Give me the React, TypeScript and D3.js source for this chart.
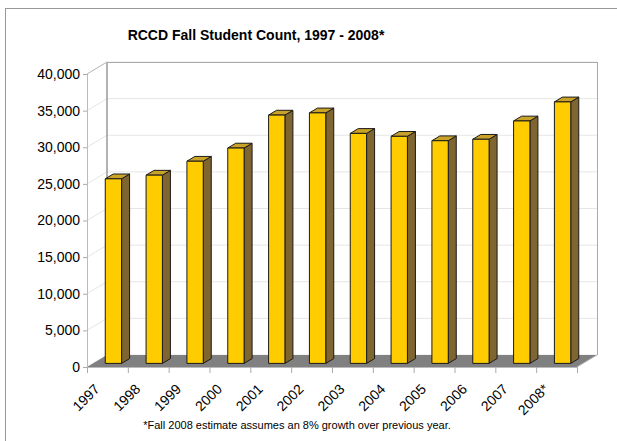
import React from 'react'
import * as d3 from 'd3'

const years = ['1997', '1998', '1999', '2000', '2001', '2002', '2003', '2004', '2005', '2006', '2007', '2008*']
const counts = [25200, 25700, 27600, 29400, 33900, 34200, 31400, 31000, 30400, 30600, 33100, 35700]
const yTicks = [0, 5000, 10000, 15000, 20000, 25000, 30000, 35000, 40000]

const W = 617
const H = 441
// plot floor front edge and depth offset
const x0 = 87
const x1 = 577
const yZero = 367
const yTop = 74
const DX = 20
const DY = -12

const App = () => {
  const y = d3.scaleLinear().domain([0, 40000]).range([yZero, yTop])
  const x = d3.scaleBand().domain(years).range([x0, x1]).paddingInner(0.6).paddingOuter(0.3)
  const step = x.step()
  const bw = x.bandwidth()
  const fmt = d3.format(',')

  // bar sits in the middle of the depth
  const f0 = 0.3
  const fd = 0.4
  const pts = (p) => p.map((q) => q.join(',')).join(' ')

  return (
    <svg width={W} height={H} style={{ position: 'absolute', left: 0, top: 0, background: '#fff' }} fontFamily="Arial, 'Liberation Sans', sans-serif">
      <rect x={5.5} y={8.5} width={700} height={500} fill="#fff" stroke="#999" />
      <text x={256} y={40} textAnchor="middle" fontSize={14} fontWeight="bold">
        RCCD Fall Student Count, 1997 - 2008*
      </text>

      {/* walls */}
      <polygon points={pts([[x0, yTop], [x0 + DX, yTop + DY], [x0 + DX, yZero + DY], [x0, yZero]])} fill="#fff" />
      <rect x={x0 + DX} y={yTop + DY} width={x1 - x0} height={yZero - yTop} fill="#fff" />
      {yTicks.map((v) => (
        <g key={v} stroke="#e6e6e6">
          <line x1={x0} y1={y(v)} x2={x0 + DX} y2={y(v) + DY} />
          <line x1={x0 + DX} y1={y(v) + DY} x2={x1 + DX} y2={y(v) + DY} />
        </g>
      ))}
      <polygon points={pts([[x0, yZero], [x1, yZero], [x1 + DX, yZero + DY], [x0 + DX, yZero + DY]])} fill="#808080" />
      <line x1={x0 + DX} y1={yTop + DY} x2={x0 + DX} y2={yZero + DY} stroke="#999" strokeWidth={1.5} />
      <line x1={x0 + DX} y1={yTop + DY + 0.5} x2={x1 + DX} y2={yTop + DY + 0.5} stroke="#aaa" />
      <line x1={x1 + DX + 0.5} y1={yTop + DY} x2={x1 + DX + 0.5} y2={yZero + DY} stroke="#aaa" />
      <line x1={x0} y1={yTop} x2={x0 + DX} y2={yTop + DY} stroke="#bbb" />
      <line x1={x0 + 0.5} y1={yTop} x2={x0 + 0.5} y2={yZero} stroke="#bbb" />
      <line x1={x0} y1={yZero + 0.5} x2={x1} y2={yZero + 0.5} stroke="#bbb" />
      <line x1={x1} y1={yZero} x2={x1 + DX} y2={yZero + DY} stroke="#bbb" />

      {/* bars */}
      {years.map((yr, i) => {
        const bx = x(yr) + DX * f0
        const by = y(counts[i]) + DY * f0
        const bb = yZero + DY * f0
        const ox = DX * fd
        const oy = DY * fd
        return (
          <g key={yr} stroke="#1a1a1a" strokeWidth={1} strokeLinejoin="round">
            <polygon points={pts([[bx + bw, by], [bx + bw + ox, by + oy], [bx + bw + ox, bb + oy], [bx + bw, bb]])} fill="#7f6630" />
            <polygon points={pts([[bx, by], [bx + ox, by + oy], [bx + bw + ox, by + oy], [bx + bw, by]])} fill="#c9a22a" />
            <rect x={bx} y={by} width={bw} height={bb - by} fill="#ffcc00" />
          </g>
        )
      })}

      {/* y axis */}
      {yTicks.map((v) => (
        <g key={v}>
          <line x1={x0 - 4} y1={y(v) + 0.5} x2={x0} y2={y(v) + 0.5} stroke="#aaa" />
          <text x={80} y={y(v)} dy="0.35em" textAnchor="end" fontSize={14}>
            {fmt(v)}
          </text>
        </g>
      ))}

      {/* x axis */}
      {d3.range(years.length + 1).map((k) => (
        <line key={k} x1={x0 + step * k + 0.5} y1={yZero} x2={x0 + step * k + 0.5} y2={yZero + 6} stroke="#aaa" />
      ))}
      {years.map((yr) => (
        <text
          key={yr}
          transform={`translate(${x(yr) + bw / 2 - 7},${yZero + 23}) rotate(-45)`}
          textAnchor="end"
          fontSize={14}
        >
          {yr}
        </text>
      ))}

      <text x={297} y={429} textAnchor="middle" fontSize={11}>
        *Fall 2008 estimate assumes an 8% growth over previous year.
      </text>
    </svg>
  )
}

export default App
